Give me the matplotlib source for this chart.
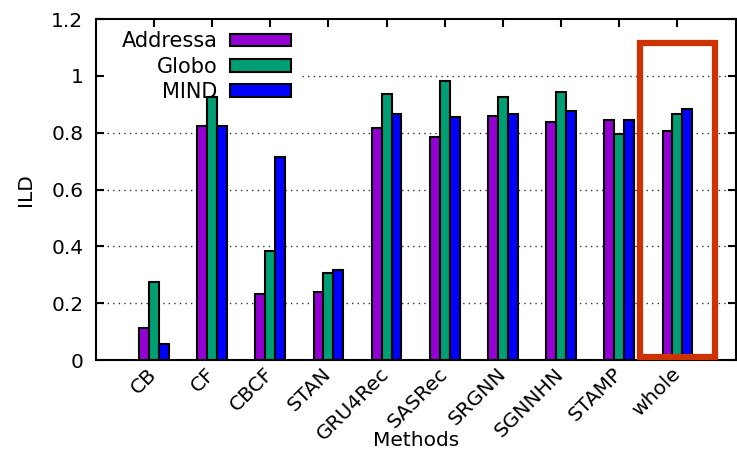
import matplotlib.pyplot as plt
import numpy as np
from matplotlib.patches import Rectangle

methods = ["CB", "CF", "CBCF", "STAN", "GRU4Rec", "SASRec", "SRGNN", "SGNNHN", "STAMP", "whole"]
addressa = [0.111, 0.824, 0.232, 0.238, 0.816, 0.784, 0.858, 0.839, 0.845, 0.806]
globo = [0.274, 0.924, 0.385, 0.307, 0.937, 0.983, 0.924, 0.943, 0.797, 0.866]
mind = [0.055, 0.824, 0.714, 0.317, 0.866, 0.855, 0.866, 0.877, 0.845, 0.883]

series = [("Addressa", addressa, "#9400D3"),
          ("Globo", globo, "#009E73"),
          ("MIND", mind, "#0000FF")]

plt.rcParams["font.family"] = "DejaVu Sans"
plt.rcParams["font.size"] = 14.5

fig = plt.figure(figsize=(7.37, 4.54), dpi=100)
ax = fig.add_axes([0.130, 0.207, 0.868, 0.751])

x = np.arange(len(methods))
w = 0.17
for i, (name, vals, col) in enumerate(series):
    ax.bar(x + (i - 1) * w, vals, w, color=col, edgecolor="black",
           linewidth=1.5, label=name, zorder=2)

ax.set_xlim(-1, 10)
ax.set_ylim(0, 1.2)
ax.set_yticks([0, 0.2, 0.4, 0.6, 0.8, 1.0, 1.2])
ax.set_yticklabels(["0", "0.2", "0.4", "0.6", "0.8", "1", "1.2"])
ax.set_xticks(x)
ax.set_xticklabels(methods, rotation=45, ha="right", va="center",
                   rotation_mode="anchor")
ax.tick_params(axis="x", which="both", bottom=False, top=True,
               direction="in", length=6, width=1.5, pad=8)
ax.tick_params(axis="y", which="both", left=True, right=True,
               direction="in", length=6, width=1.5, pad=9)
for s in ax.spines.values():
    s.set_linewidth(1.5)

# dotted grid; the top line stops where the key sits (gnuplot style)
for yv in [0.2, 0.4, 0.6, 0.8]:
    ax.axhline(yv, color="#333333", linestyle=(0, (1, 3)), linewidth=1.0, zorder=1)
ax.axhline(1.0, xmin=0.322, color="#333333", linestyle=(0, (1, 3)),
           linewidth=1.0, zorder=1)

ax.set_ylabel("ILD", labelpad=12)
ax.set_xlabel("Methods", va="center")
ax.xaxis.set_label_coords(0.5, -0.2375)

leg = ax.legend(loc="upper right", bbox_to_anchor=(0.322, 0.995), markerfirst=False,
                frameon=False, fontsize=15, handlelength=2.95, handleheight=0.55,
                labelspacing=0.26, handletextpad=0.6, borderpad=0.3,
                borderaxespad=0.2)
leg.set_zorder(5)

# highlight box around "whole"
ax.add_patch(Rectangle((8.35, 0.01), 1.30, 1.107, fill=False,
                       edgecolor="#CC3300", linewidth=4.5, zorder=6, clip_on=False))

fig.savefig("out.png", dpi=100)
